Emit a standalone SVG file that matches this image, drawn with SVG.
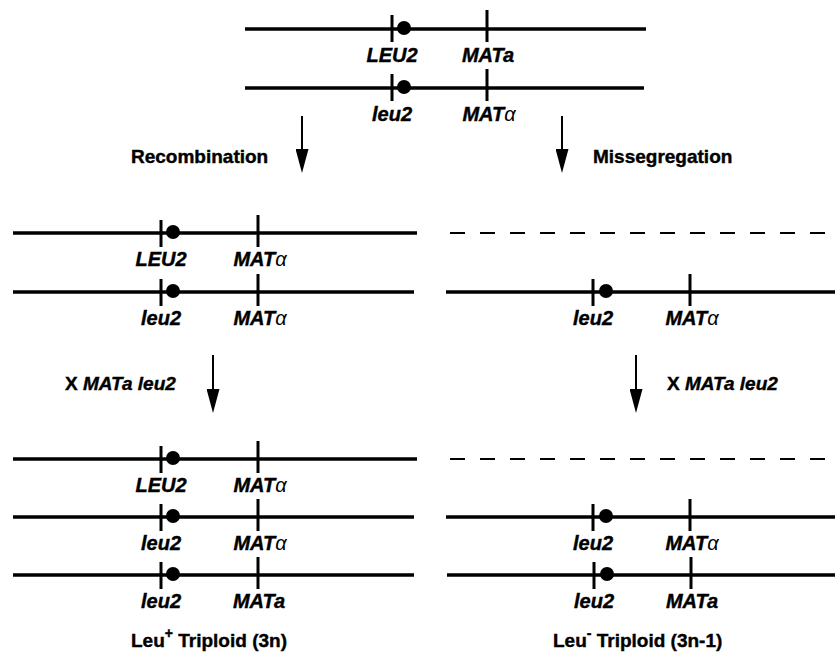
<svg xmlns="http://www.w3.org/2000/svg" width="835" height="662" viewBox="0 0 835 662">
<style>
.chr{stroke:#000;stroke-width:3.5;fill:none}
.dash{stroke:#000;stroke-width:2;stroke-dasharray:15 15;fill:none}
.tick{stroke:#000;stroke-width:3}
.cen{fill:#000}
.gene{font-family:"Liberation Sans",Arial,sans-serif;font-weight:bold;font-style:italic;font-size:20px;text-anchor:middle;fill:#000;stroke:#000;stroke-width:0.4}
.gr{font-weight:normal;stroke-width:0}
.lab{font-family:"Liberation Sans",Arial,sans-serif;font-weight:bold;font-size:19px;fill:#000;stroke:#000;stroke-width:0.4}
.it{font-style:italic}
.arrow{stroke:#000;stroke-width:2;marker-end:url(#ah)}
</style>
<defs>
<marker id="ah" markerUnits="userSpaceOnUse" markerWidth="24" markerHeight="13" refX="0" refY="6.5" orient="auto" viewBox="0 0 24 13"><path d="M0,0 L24,6.5 L0,13 Z" fill="#000"/></marker>
</defs>

<!-- Top parental chromosomes -->
<g id="top-chr1">
<line class="chr" x1="245" y1="29" x2="646" y2="29"/>
<line class="tick" x1="392" y1="15" x2="392" y2="42"/>
<circle class="cen" cx="404" cy="28" r="7"/>
<line class="tick" x1="487" y1="10" x2="487" y2="42"/>
<text class="gene" x="392" y="62">LEU2</text>
<text class="gene" x="488" y="62">MATa</text>
</g>
<g id="top-chr2">
<line class="chr" x1="245" y1="88" x2="644" y2="88"/>
<line class="tick" x1="392" y1="74" x2="392" y2="101"/>
<circle class="cen" cx="404" cy="87" r="7"/>
<line class="tick" x1="487" y1="69" x2="487" y2="101"/>
<text class="gene" x="392" y="121">leu2</text>
<text class="gene" x="489" y="121">MAT<tspan class="gr">α</tspan></text>
</g>

<g id="label-recombination"><text class="lab" x="131" y="163">Recombination</text></g>
<g id="label-missegregation"><text class="lab" x="593" y="163">Missegregation</text></g>

<!-- Left middle -->
<g id="rec-chr1">
<line class="chr" x1="13" y1="233" x2="417" y2="233"/>
<line class="tick" x1="161" y1="220" x2="161" y2="247"/>
<circle class="cen" cx="173" cy="232" r="7"/>
<line class="tick" x1="258" y1="215" x2="258" y2="247"/>
<text class="gene" x="161" y="266">LEU2</text>
<text class="gene" x="260" y="266">MAT<tspan class="gr">α</tspan></text>
</g>
<g id="rec-chr2">
<line class="chr" x1="13" y1="292" x2="414" y2="292"/>
<line class="tick" x1="161" y1="279" x2="161" y2="306"/>
<circle class="cen" cx="173" cy="291" r="7"/>
<line class="tick" x1="258" y1="274" x2="258" y2="306"/>
<text class="gene" x="161" y="325">leu2</text>
<text class="gene" x="260" y="325">MAT<tspan class="gr">α</tspan></text>
</g>

<!-- Right middle -->
<g id="mis-lost"><line class="dash" x1="450" y1="233" x2="835" y2="233"/></g>
<g id="mis-chr1">
<line class="chr" x1="446" y1="292" x2="835" y2="292"/>
<line class="tick" x1="593" y1="279" x2="593" y2="306"/>
<circle class="cen" cx="606" cy="291" r="7"/>
<line class="tick" x1="690" y1="274" x2="690" y2="306"/>
<text class="gene" x="593" y="325">leu2</text>
<text class="gene" x="692" y="325">MAT<tspan class="gr">α</tspan></text>
</g>

<g id="label-cross-left"><text class="lab" x="65" y="390">X <tspan class="it">MATa leu2</tspan></text></g>
<g id="label-cross-right"><text class="lab" x="667" y="390">X <tspan class="it">MATa leu2</tspan></text></g>

<!-- Bottom left triploid -->
<g id="tri-chr1">
<line class="chr" x1="13" y1="459" x2="417" y2="459"/>
<line class="tick" x1="161" y1="446" x2="161" y2="473"/>
<circle class="cen" cx="173" cy="458" r="7"/>
<line class="tick" x1="258" y1="441" x2="258" y2="473"/>
<text class="gene" x="161" y="492">LEU2</text>
<text class="gene" x="260" y="492">MAT<tspan class="gr">α</tspan></text>
</g>
<g id="tri-chr2">
<line class="chr" x1="13" y1="517" x2="414" y2="517"/>
<line class="tick" x1="161" y1="504" x2="161" y2="531"/>
<circle class="cen" cx="173" cy="516" r="7"/>
<line class="tick" x1="258" y1="499" x2="258" y2="531"/>
<text class="gene" x="161" y="550">leu2</text>
<text class="gene" x="260" y="550">MAT<tspan class="gr">α</tspan></text>
</g>
<g id="tri-chr3">
<line class="chr" x1="13" y1="575" x2="414" y2="575"/>
<line class="tick" x1="161" y1="562" x2="161" y2="589"/>
<circle class="cen" cx="173" cy="574" r="7"/>
<line class="tick" x1="258" y1="557" x2="258" y2="589"/>
<text class="gene" x="161" y="608">leu2</text>
<text class="gene" x="259" y="608">MATa</text>
</g>

<!-- Bottom right triploid -->
<g id="tri2-lost"><line class="dash" x1="450" y1="459" x2="835" y2="459"/></g>
<g id="tri2-chr1">
<line class="chr" x1="446" y1="517" x2="835" y2="517"/>
<line class="tick" x1="593" y1="504" x2="593" y2="531"/>
<circle class="cen" cx="606" cy="516" r="7"/>
<line class="tick" x1="690" y1="499" x2="690" y2="531"/>
<text class="gene" x="593" y="550">leu2</text>
<text class="gene" x="692" y="550">MAT<tspan class="gr">α</tspan></text>
</g>
<g id="tri2-chr2">
<line class="chr" x1="447" y1="575" x2="835" y2="575"/>
<line class="tick" x1="594" y1="562" x2="594" y2="589"/>
<circle class="cen" cx="607" cy="574" r="7"/>
<line class="tick" x1="691" y1="557" x2="691" y2="589"/>
<text class="gene" x="594" y="608">leu2</text>
<text class="gene" x="692" y="608">MATa</text>
</g>

<g id="label-leu-plus"><text class="lab" x="131" y="647">Leu<tspan font-size="14" dy="-9">+</tspan><tspan dy="9"> Triploid (3n)</tspan></text></g>
<g id="label-leu-minus"><text class="lab" x="553" y="647">Leu<tspan font-size="14" dy="-9">-</tspan><tspan dy="9"> Triploid (3n-1)</tspan></text></g>

<g id="connectors">
<line class="arrow" x1="302" y1="116" x2="302" y2="149"/>
<line class="arrow" x1="562" y1="116" x2="562" y2="149"/>
<line class="arrow" x1="213" y1="355" x2="213" y2="389"/>
<line class="arrow" x1="636" y1="355" x2="636" y2="389"/>
</g>
</svg>
